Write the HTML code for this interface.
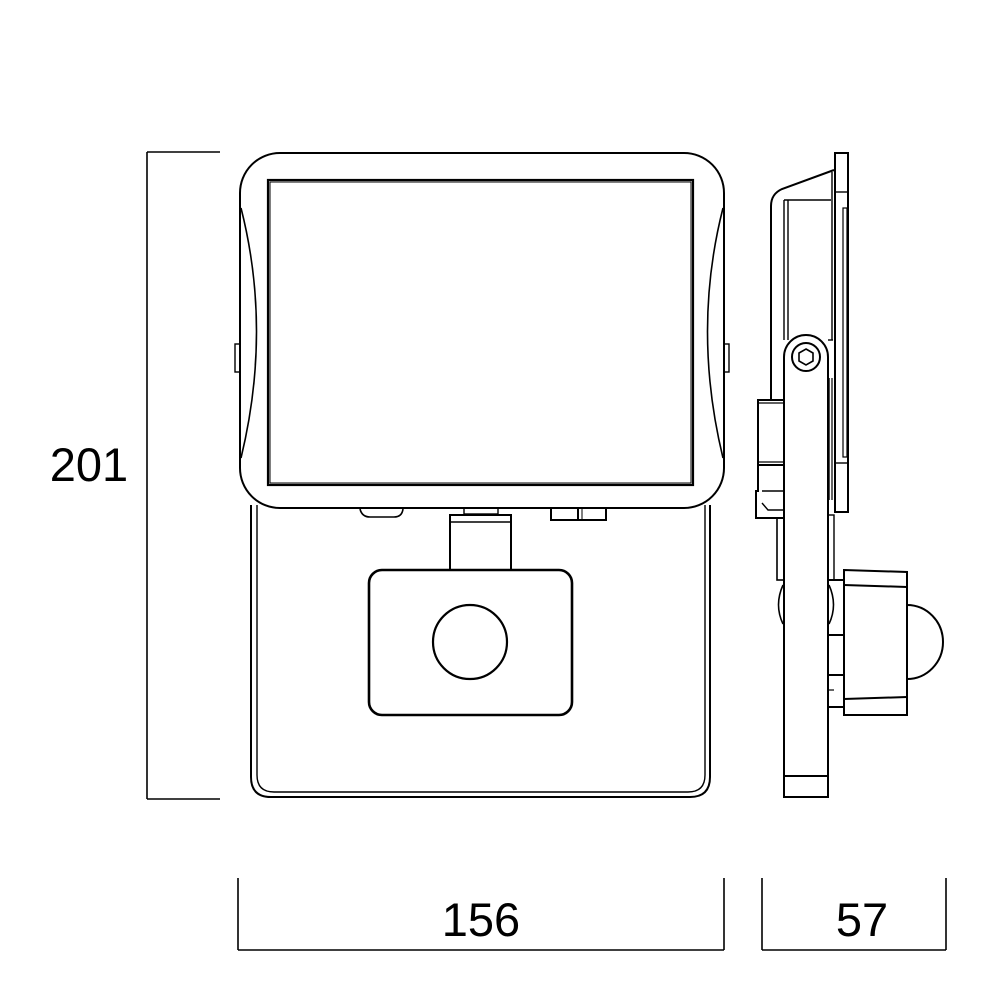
<!DOCTYPE html>
<html><head><style>html,body{margin:0;padding:0;background:#fff;}svg{display:block;}</style></head>
<body>
<svg width="1000" height="1000" viewBox="0 0 1000 1000" xmlns="http://www.w3.org/2000/svg" fill="none" stroke="#000" stroke-width="2">
<g stroke-width="1.6">
<line x1="147" y1="152" x2="220" y2="152"/>
<line x1="147" y1="799" x2="220" y2="799"/>
<line x1="147" y1="152" x2="147" y2="799"/>
<line x1="238" y1="878" x2="238" y2="950"/>
<line x1="724" y1="878" x2="724" y2="950"/>
<line x1="238" y1="950" x2="724" y2="950"/>
<line x1="762" y1="878" x2="762" y2="950"/>
<line x1="946" y1="878" x2="946" y2="950"/>
<line x1="762" y1="950" x2="946" y2="950"/>
</g>
<g fill="#000" stroke="none" font-family="Liberation Sans, sans-serif" font-size="47" text-anchor="middle">
<text x="89" y="481">201</text>
<text x="481" y="936">156</text>
<text x="862" y="936">57</text>
</g>
<path d="M251 505 V777 Q251 797 271 797 H690 Q710 797 710 777 V505" stroke-width="2"/>
<path d="M257 505 V775 Q257 792 274 792 H688 Q705 792 705 775 V505" stroke-width="1.4"/>
<rect x="240" y="153" width="484" height="355" rx="40" fill="#fff"/>
<rect x="268" y="180" width="425" height="305" stroke-width="2.2"/>
<rect x="270" y="182" width="421" height="301" stroke-width="1"/>
<path d="M241 208 Q272 330 241 458" stroke-width="1.6"/>
<path d="M723 208 Q692 330 723 458" stroke-width="1.6"/>
<rect x="235" y="344" width="5" height="28" stroke-width="1.4"/>
<rect x="724" y="344" width="5" height="28" stroke-width="1.4"/>
<path d="M360 509 Q362 517 370 517 H394 Q402 517 403 509" stroke-width="1.6"/>
<rect x="464" y="508" width="34" height="6" stroke-width="1.4"/>
<rect x="450" y="515" width="61" height="56" stroke-width="2"/>
<line x1="450" y1="522" x2="511" y2="522" stroke-width="1.6"/>
<path d="M551 509 V520 H606 V509" stroke-width="2"/>
<line x1="578" y1="509" x2="578" y2="520"/>
<line x1="582" y1="509" x2="582" y2="520" stroke-width="1"/>
<rect x="369" y="570" width="203" height="145" rx="13" stroke-width="2.6" fill="#fff"/>
<circle cx="470" cy="642" r="37" stroke-width="2.2"/>
<rect x="835" y="153" width="13" height="359" stroke-width="2"/>
<line x1="835" y1="192" x2="848" y2="192" stroke-width="1.4"/>
<line x1="835" y1="463" x2="848" y2="463" stroke-width="1.4"/>
<rect x="843" y="208" width="4" height="249" stroke-width="1.2"/>
<path d="M834 170 L782 189 Q771 194 771 206 V400" stroke-width="2"/>
<line x1="832" y1="172" x2="832" y2="340" stroke-width="1.4"/>
<path d="M784 200 H831 M784 200 V340 M788 200 V340" stroke-width="1.4"/>
<line x1="828" y1="340" x2="833" y2="340" stroke-width="1.4"/>
<line x1="829" y1="378" x2="829" y2="500" stroke-width="1.4"/>
<line x1="832" y1="378" x2="832" y2="500" stroke-width="1.2"/>
<path d="M784 797 V357 A22 22 0 0 1 828 357 V797 Z" stroke-width="2" fill="#fff"/>
<line x1="784" y1="776" x2="828" y2="776"/>
<circle cx="806" cy="357" r="14" stroke-width="2"/>
<polygon points="806,349 813,353 813,361 806,365 799,361 799,353" stroke-width="1.6"/>
<rect x="758" y="400" width="26" height="65" stroke-width="2"/>
<line x1="758" y1="403" x2="784" y2="403" stroke-width="1.2"/>
<line x1="758" y1="462" x2="784" y2="462" stroke-width="1.2"/>
<path d="M784 465 H758 V491 H756 V518 H784" stroke-width="2"/>
<path d="M762 491 H784 M762 503 L768 510 H784" stroke-width="1.4"/>
<rect x="777" y="518" width="7" height="62" stroke-width="1.6"/>
<path d="M783 585 Q774 605 783 624" stroke-width="1.6"/>
<rect x="828" y="515" width="6" height="65" stroke-width="1.4"/>
<path d="M828 580 H844 M828 635 H844 V580" stroke-width="2"/>
<path d="M829 585 Q838 605 829 624" stroke-width="1.6"/>
<path d="M844 675 H828 V707 H844" stroke-width="2"/>
<line x1="828" y1="690" x2="834" y2="690" stroke-width="1.2"/>
<path d="M844 570 L907 572 V715 L844 715 Z" stroke-width="2"/>
<line x1="844" y1="585" x2="907" y2="587" stroke-width="2"/>
<line x1="844" y1="699" x2="907" y2="697" stroke-width="2"/>
<path d="M907 605 A36 37 0 0 1 907 679" stroke-width="2"/>
</svg>
</body></html>
